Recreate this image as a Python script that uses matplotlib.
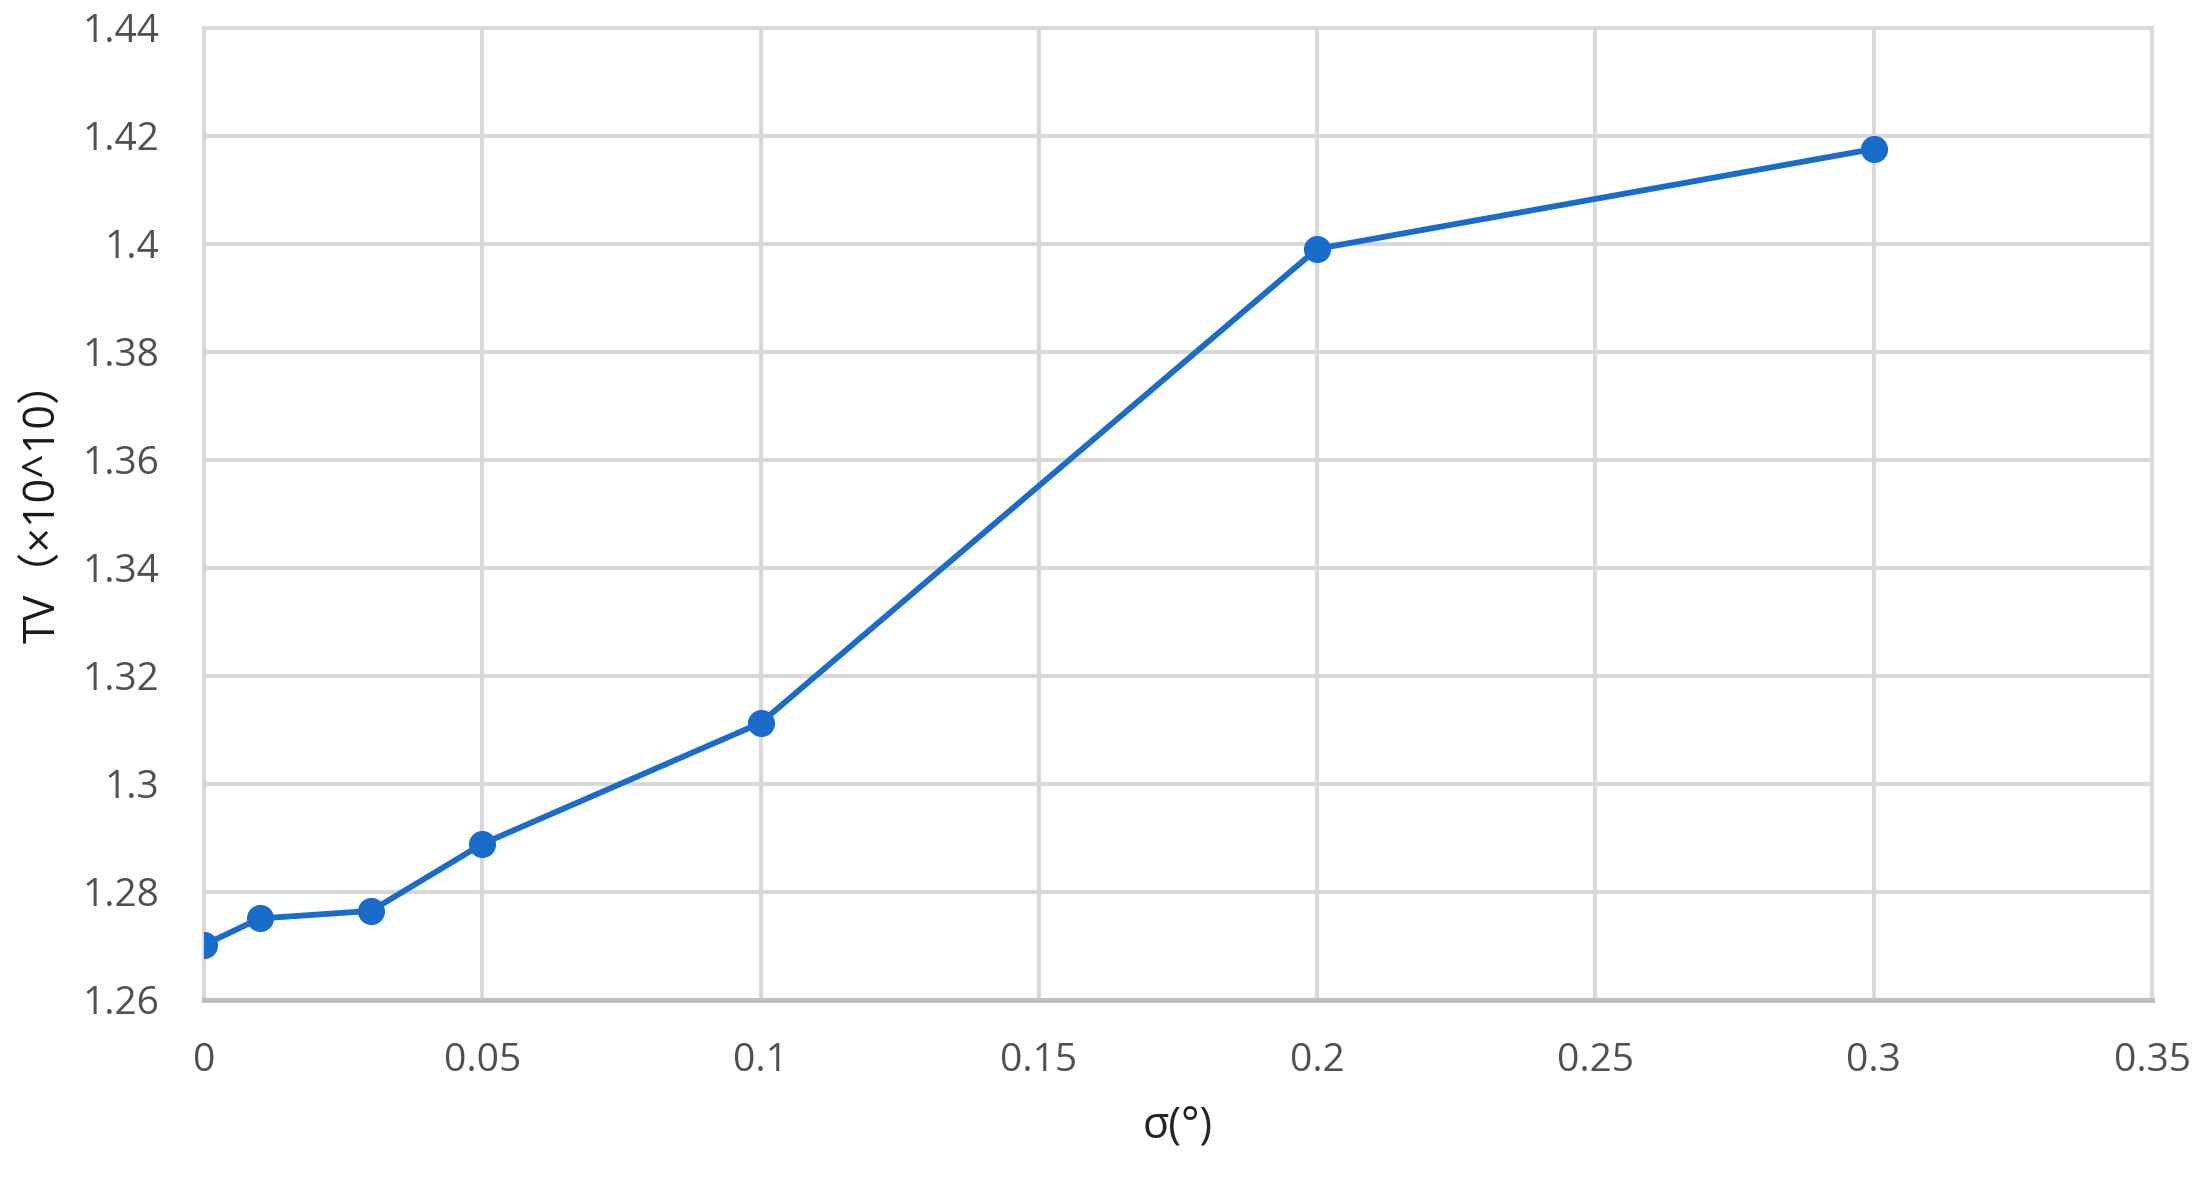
import matplotlib
matplotlib.use("Agg")
import matplotlib.pyplot as plt
from matplotlib.ticker import FixedLocator

sigma = [0, 0.01, 0.03, 0.05, 0.1, 0.2, 0.3]
tv = [1.2702, 1.2751, 1.2765, 1.2889, 1.3113, 1.3991, 1.4176]
xticks = [0, 0.05, 0.1, 0.15, 0.2, 0.25, 0.3, 0.35]
xticklabels = ["0", "0.05", "0.1", "0.15", "0.2", "0.25", "0.3", "0.35"]
yticks = [1.26, 1.28, 1.3, 1.32, 1.34, 1.36, 1.38, 1.4, 1.42, 1.44]
yticklabels = ["1.26", "1.28", "1.3", "1.32", "1.34", "1.36", "1.38", "1.4", "1.42", "1.44"]

plt.rcParams['font.family'] = ['Open Sans', 'Noto Sans CJK SC', 'DejaVu Sans']

fig = plt.figure(figsize=(22.04, 11.84), dpi=100)
ax = fig.add_axes([204/2204, 1 - 1000/1184, (2152-204)/2204, (1000-28)/1184])

ax.plot(sigma, tv, color="#1A6CCB", linewidth=4.2, marker="o", markersize=18.5,
        markerfacecolor="#1A6CCB", markeredgecolor="#1A6CCB", zorder=3)

ax.set_xlim(0, 0.35)
ax.set_ylim(1.26, 1.44)
ax.xaxis.set_major_locator(FixedLocator(xticks))
ax.yaxis.set_major_locator(FixedLocator(yticks))
ax.set_xticklabels(xticklabels)
ax.set_yticklabels(yticklabels)
ax.tick_params(axis='both', length=0, labelsize=28, labelcolor="#505050")
ax.tick_params(axis='x', pad=30)
ax.tick_params(axis='y', pad=32)

ax.grid(True, color="#D9D9D9", linewidth=3)
ax.set_axisbelow(True)
for s in ["top", "right", "left"]:
    ax.spines[s].set_color("#D9D9D9")
    ax.spines[s].set_linewidth(3)
ax.spines["bottom"].set_color("#BFBFBF")
ax.spines["bottom"].set_linewidth(3.5)

ax.set_xlabel("σ(°)", fontsize=31, color="#262626", labelpad=18)
ax.set_ylabel("TV（×10^10）", fontsize=31, color="#1A1A1A")
ax.yaxis.set_label_coords(-0.0707, 0.513)

fig.savefig("out.png", dpi=100, facecolor="white")
